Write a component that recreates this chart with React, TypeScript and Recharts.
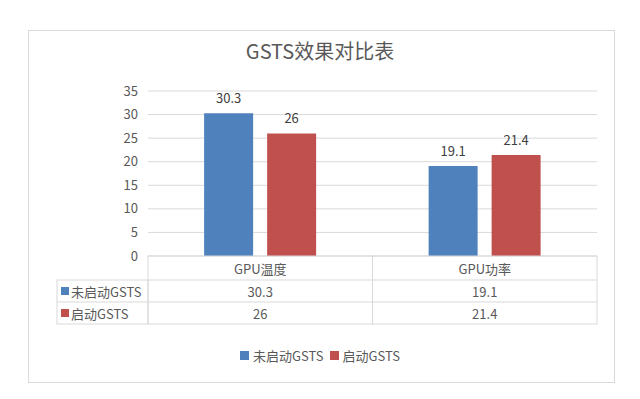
import React from "react";
import { BarChart, Bar, XAxis, YAxis, CartesianGrid, LabelList } from "recharts";

const categories = ["GPU温度", "GPU功率"];
const seriesNames = ["未启动GSTS", "启动GSTS"];
const noGsts = [30.3, 19.1];
const withGsts = [26, 21.4];
const yTicks = [0, 5, 10, 15, 20, 25, 30, 35];

const COLORS = ["#4f81bd", "#c0504d"];
const TEXT = "#595959";
const LINE = "#d9d9d9";
const FONT = "'Noto Sans CJK SC', 'Noto Sans', sans-serif";

const data = categories.map((c, i) => ({ name: c, a: noGsts[i], b: withGsts[i] }));
const seriesValues = [noGsts, withGsts];

const W = 640;
const H = 399;
const M = { top: 91, right: 43, bottom: 73, left: 100 };
const YW = 48;
const PLOT_W = W - M.left - M.right - YW;
const BAND = PLOT_W / categories.length;
const HEAD_H = 24;
const ROW_H = 22;
const LEG_W = 91;

const TableTick = (props: any) => {
  const { x, y, index } = props;
  const left = x - BAND / 2;
  const right = x + BAND / 2;
  const top = y;
  const cells: React.ReactNode[] = [];
  const bottom = top + HEAD_H + ROW_H * 2;
  cells.push(<rect key="box" x={left} y={top} width={right - left} height={bottom - top} fill="none" stroke={LINE} />);
  cells.push(<line key="h1" x1={left} x2={right} y1={top + HEAD_H} y2={top + HEAD_H} stroke={LINE} />);
  cells.push(<line key="h2" x1={left} x2={right} y1={top + HEAD_H + ROW_H} y2={top + HEAD_H + ROW_H} stroke={LINE} />);
  cells.push(
    <text key="cat" x={x} y={top + HEAD_H / 2} textAnchor="middle" dominantBaseline="central" fill={TEXT} fontSize={13} fontFamily={FONT}>
      {categories[index]}
    </text>
  );
  seriesValues.forEach((vals, r) => {
    cells.push(
      <text key={"v" + r} x={x} y={top + HEAD_H + ROW_H * r + ROW_H / 2} textAnchor="middle" dominantBaseline="central" fill={TEXT} fontSize={13} fontFamily={FONT}>
        {String(vals[index])}
      </text>
    );
  });
  if (index === 0) {
    const ll = left - LEG_W;
    cells.push(<rect key="lbox" x={ll} y={top + HEAD_H} width={LEG_W} height={ROW_H * 2} fill="none" stroke={LINE} />);
    cells.push(<line key="lh" x1={ll} x2={left} y1={top + HEAD_H + ROW_H} y2={top + HEAD_H + ROW_H} stroke={LINE} />);
    seriesNames.forEach((n, r) => {
      const cy = top + HEAD_H + ROW_H * r + ROW_H / 2;
      cells.push(<rect key={"sq" + r} x={ll + 4} y={cy - 4} width={8} height={8} fill={COLORS[r]} />);
      cells.push(
        <text key={"n" + r} x={ll + 14} y={cy} dominantBaseline="central" fill={TEXT} fontSize={13} fontFamily={FONT}>
          {n}
        </text>
      );
    });
  }
  return <g>{cells}</g>;
};

export default function App() {
  return (
    <div style={{ position: "absolute", left: 0, top: 0, width: W, height: H, background: "#fff", fontFamily: FONT }}>
      <div style={{ position: "absolute", left: 28, top: 30, width: 585, height: 351, border: `1px solid ${LINE}` }} />
      <div style={{ position: "absolute", left: 0, top: 36, width: W, textAlign: "center", fontSize: 20, color: TEXT, fontFamily: FONT }}>
        GSTS效果对比表
      </div>
      <div style={{ position: "absolute", left: 0, top: 0 }}>
        <BarChart width={W} height={H} data={data} margin={M} barCategoryGap="25%" barGap={14}>
          <CartesianGrid vertical={false} stroke={LINE} />
          <XAxis dataKey="name" height={70} axisLine={false} tickLine={false} tickSize={0} tickMargin={0} tick={<TableTick />} interval={0} />
          <YAxis width={YW} domain={[0, 35]} ticks={yTicks} interval={0} axisLine={false} tickLine={false} tickMargin={4} tick={{ fill: TEXT, fontSize: 13, fontFamily: FONT }} />
          <Bar dataKey="a" name={seriesNames[0]} fill={COLORS[0]} isAnimationActive={false}>
            <LabelList dataKey="a" position="top" offset={10} fill="#404040" fontSize={13} fontFamily={FONT} />
          </Bar>
          <Bar dataKey="b" name={seriesNames[1]} fill={COLORS[1]} isAnimationActive={false}>
            <LabelList dataKey="b" position="top" offset={10} fill="#404040" fontSize={13} fontFamily={FONT} />
          </Bar>
        </BarChart>
      </div>
      <div style={{ position: "absolute", left: 0, top: 346, width: W, display: "flex", justifyContent: "center", alignItems: "center", fontSize: 13, color: TEXT, fontFamily: FONT }}>
        {seriesNames.map((n, i) => (
          <span key={n} style={{ display: "inline-flex", alignItems: "center", marginLeft: i ? 6 : 0 }}>
            <span style={{ display: "inline-block", width: 9, height: 9, background: COLORS[i], marginRight: 4 }} />
            {n}
          </span>
        ))}
      </div>
    </div>
  );
}
